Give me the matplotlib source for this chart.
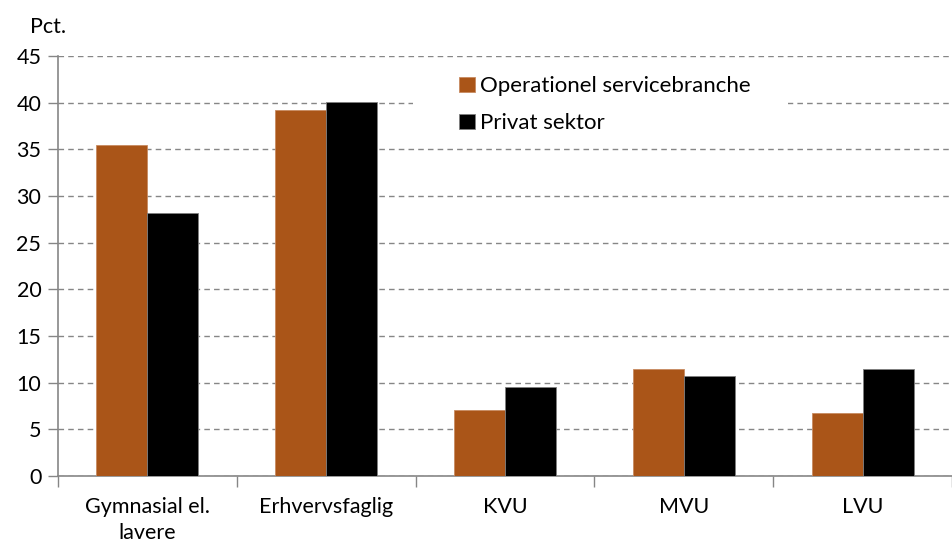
import numpy as np
import matplotlib.pyplot as plt
from matplotlib.patches import Rectangle

categories = ['Gymnasial el.\nlavere', 'Erhvervsfaglig', 'KVU', 'MVU', 'LVU']
operationel = [35.5, 39.2, 7.1, 11.5, 6.7]
privat = [28.2, 40.1, 9.5, 10.7, 11.5]
yticks = [0, 5, 10, 15, 20, 25, 30, 35, 40, 45]

plt.rcParams['font.family'] = ['Lato', 'DejaVu Sans']

fig = plt.figure(figsize=(9.52, 5.45), dpi=100)
ax = fig.add_axes([58/952, 1 - 476/545, 1 - 58/952, 420/545])

x = np.arange(len(categories))
w = 0.285
ax.bar(x - w/2, operationel, w, color='#AA5518', edgecolor='#C88A60', linewidth=0.6,
       label='Operationel servicebranche', zorder=3)
ax.bar(x + w/2, privat, w, color='black', edgecolor='#7F7F7F', linewidth=0.6,
       label='Privat sektor', zorder=3)

ax.set_ylim(0, 45)
ax.set_xlim(-0.5, -0.5 + 894/181)
ax.set_yticks(yticks)
ax.tick_params(axis='y', labelsize=15.5, length=7, width=1, color='#868686', pad=5)
ax.yaxis.grid(True, linestyle=(0, (4, 3)), color='#868686', linewidth=1)
ax.set_axisbelow(True)

ax.set_xticks(x)
ax.set_xticklabels(categories, fontsize=15.5, linespacing=1.4)
ax.tick_params(axis='x', which='major', length=0, pad=15)
ax.set_xticks([-0.5] + list(np.arange(len(categories)) + 0.5), minor=True)
ax.tick_params(axis='x', which='minor', length=8, width=1, color='#868686')

for s in ['top', 'right']:
    ax.spines[s].set_visible(False)
for s in ['left', 'bottom']:
    ax.spines[s].set_color('#868686')
    ax.spines[s].set_linewidth(1.2)

# white box behind the legend, hiding the gridline
ax.add_patch(Rectangle((0.397, 0.80), 0.4195, 0.1667, transform=ax.transAxes,
                       facecolor='white', edgecolor='none', zorder=2))

leg = ax.legend(loc='upper left', bbox_to_anchor=(0.444, 0.962), fontsize=16,
                frameon=False, handlelength=0.7, handleheight=0.7,
                handletextpad=0.25, labelspacing=0.75, borderpad=0.2,
                borderaxespad=0)

fig.text(30/952, 1 - 27/545, 'Pct.', fontsize=15.5, va='center', ha='left')

fig.savefig('out.png', dpi=100)
